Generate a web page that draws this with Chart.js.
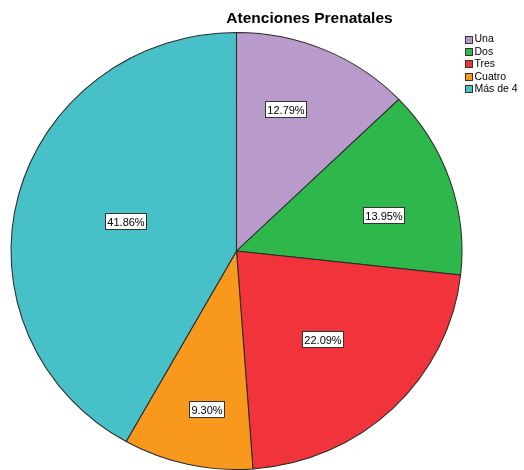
<!DOCTYPE html>
<html>
<head>
<meta charset="utf-8">
<script src="https://cdn.jsdelivr.net/npm/chart.js@4/dist/chart.umd.min.js"></script>
<style>
  html, body { margin: 0; padding: 0; background: #fff; }
  #wrap { width: 524px; height: 470px; position: relative; }
</style>
</head>
<body>
<div id="wrap"><canvas id="pieChart" width="524" height="470"></canvas></div>
<script>
// datos
const categorias = ['Una', 'Dos', 'Tres', 'Cuatro', 'Más de 4'];
const casos = [11, 12, 19, 8, 36];
const porcentajes = ['12.79%', '13.95%', '22.09%', '9.30%', '41.86%'];
const colores = ['#b89bcb', '#2eb84c', '#f1333c', '#f8991e', '#47c1c7'];

const FONT = "'Liberation Sans', Arial, sans-serif";
const SX = 1.032; // el pastel original es un poco mas ancho que alto
// donde va cada etiqueta dentro de su sector
const radioEtiqueta = [0.686, 0.671, 0.552, 0.737, 0.512];
const giroEtiqueta = [-4.6, 4.6, 0.5, -2.3, 0.7];

const elipse = {
  id: 'elipse',
  beforeDatasetsDraw(chart) {
    const a = chart.getDatasetMeta(0).data[0];
    const ctx = chart.ctx;
    ctx.save();
    ctx.translate(a.x, 0);
    ctx.scale(SX, 1);
    ctx.translate(-a.x, 0);
  },
  afterDatasetsDraw(chart) {
    chart.ctx.restore();
  }
};

const etiquetas = {
  id: 'etiquetas',
  afterDraw(chart) {
    const ctx = chart.ctx;
    const arcs = chart.getDatasetMeta(0).data;
    ctx.save();
    ctx.font = '11px ' + FONT;
    ctx.textAlign = 'center';
    ctx.textBaseline = 'middle';
    arcs.forEach((arc, i) => {
      const p = arc.getProps(['x', 'y', 'startAngle', 'endAngle', 'outerRadius']);
      const mid = (p.startAngle + p.endAngle) / 2 + giroEtiqueta[i] * Math.PI / 180;
      const r = p.outerRadius * radioEtiqueta[i];
      const x = p.x + Math.cos(mid) * r * SX;
      const y = p.y + Math.sin(mid) * r;
      const txt = porcentajes[i];
      const w = Math.round(ctx.measureText(txt).width + 4);
      const h = 16;
      const bx = Math.round(x - w / 2) + 0.5;
      const by = Math.round(y - h / 2) + 0.5;
      ctx.fillStyle = '#fff';
      ctx.fillRect(bx, by, w, h);
      ctx.strokeStyle = '#333';
      ctx.lineWidth = 1;
      ctx.strokeRect(bx, by, w, h);
      ctx.fillStyle = '#000';
      ctx.fillText(txt, bx + w / 2, by + h / 2 + 1);
    });

    // titulo
    ctx.font = 'bold 15.5px ' + FONT;
    ctx.fillText('Atenciones Prenatales', 309.5, 19);

    // leyenda
    ctx.font = '10.5px ' + FONT;
    ctx.textAlign = 'left';
    categorias.forEach((c, i) => {
      const y = 39.5 + i * 12.4;
      const by = Math.round(y - 4) + 0.5;
      ctx.fillStyle = colores[i];
      ctx.fillRect(465.5, by, 7, 7);
      ctx.strokeStyle = '#333';
      ctx.strokeRect(465.5, by, 7, 7);
      ctx.fillStyle = '#000';
      ctx.fillText(c, 474.5, y);
    });
    ctx.restore();
  }
};

const ctx = document.getElementById('pieChart').getContext('2d');
const pieChart = new Chart(ctx, {
  type: 'pie',
  data: {
    labels: categorias,
    datasets: [{
      data: casos,
      backgroundColor: colores,
      borderColor: '#2a2a2a',
      borderWidth: 1
    }]
  },
  options: {
    responsive: false,
    animation: false,
    events: [],
    layout: {
      padding: { left: 17.5, right: 68.5, top: 32, bottom: 0 }
    },
    plugins: {
      legend: { display: false },
      title: { display: false },
      tooltip: { enabled: false }
    }
  },
  plugins: [elipse, etiquetas]
});
</script>
</body>
</html>
